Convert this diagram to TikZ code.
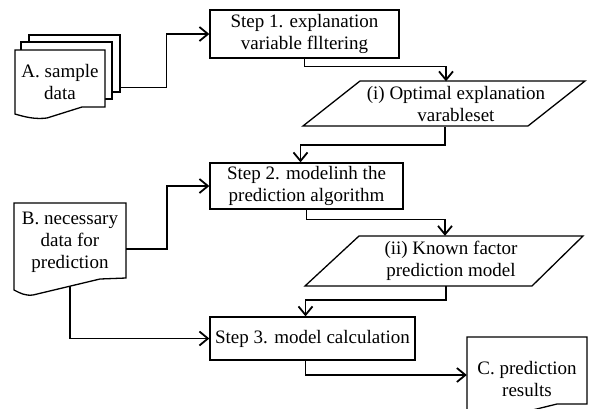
\documentclass[tikz,border=0pt]{standalone}
\usepackage{fontspec}
\setmainfont{Liberation Serif}
\usetikzlibrary{arrows.meta,calc}
\begin{document}
\begin{tikzpicture}[x=1pt,y=-1pt,
  lbl/.style={font=\fontsize{19}{22}\selectfont},
  box/.style={lbl,draw,line width=1.3pt,align=center,inner sep=0pt},
  txt/.style={lbl,align=center,inner sep=0pt},
  shp/.style={draw,line width=1.3pt,fill=white,line join=miter},
  conn/.style={line width=1.6pt,-{Straight Barb[length=8.5pt,width=14pt,line width=1.8pt]}}]
\useasboundingbox (0,0) rectangle (589,408);
\clip (0,0) rectangle (589,408);
% A: stacked documents
\node[shp,inner sep=0pt,minimum width=91pt,minimum height=57pt] (Ab) at (74.5,63.5) {};
\node[shp,inner sep=0pt,minimum width=91pt,minimum height=57pt] (Am) at (66.5,70.5) {};
\draw[shp] (15,50) -- (105,50) -- (105,107) -- (82,107) -- (47,118)
  .. controls (35,119.5) and (25,117) .. (15,114) -- cycle;
\node[txt,minimum width=90pt] (A) at (60,82) {A. sample\\data};
% B document
\draw[shp] (14,203) -- (126,203) -- (126,278) -- (100,279) -- (33,295)
  .. controls (25,296) and (20,293) .. (14,290) -- cycle;
\node[txt,minimum width=112pt] (B) at (70,242) {B. necessary\\data for\\prediction};
% C document
\draw[shp] (467,337) -- (587,337) -- (587,404) -- (557,404) -- (500,418)
  .. controls (490,420) and (478,417) .. (467,414) -- cycle;
\node[txt,minimum width=120pt] (C) at (527,379) {C. prediction\\results};
% steps
\node[box,minimum width=189pt,minimum height=48pt] (s1) at (304.5,34) {Step 1. explanation\\variable flltering};
\node[box,minimum width=193pt,minimum height=46pt] (s2) at (306.5,186) {Step 2. modelinh the\\prediction algorithm};
\node[box,minimum width=205pt,minimum height=43pt] (s3) at (312.5,338.5) {Step 3. model calculation};
% parallelograms
\draw[shp] (360,81) -- (585,81) -- (528,126) -- (303,126) -- cycle;
\node[txt,minimum height=45pt] (p1) at (456,104) {(i) Optimal explanation\\varableset};
\draw[shp] (359,236) -- (583,236) -- (532,286) -- (305,286) -- cycle;
\node[txt,minimum height=50pt] (p2) at (451,261) {(ii) Known factor\\prediction model};
% connectors
\draw[conn] ($(Ab.south east)+(0,-5)$) -- ++(46,0) |- (s1.west);
\draw[conn] (s1.south) -- ++(0,8) -| ([xshift=-10pt]p1.north);
\draw[conn] ([xshift=-11pt]p1.south) -- ++(0,18) -| ([xshift=-6pt]s2.north);
\draw[conn] (s2.south) -- ++(0,10) -| ([xshift=-6pt]p2.north);
\draw[conn] ([xshift=-5pt]p2.south) -- ++(0,14) -| ([xshift=-7pt]s3.north);
\draw[conn] ($(B.east)+(0,7)$) -- ++(41,0) |- (s2.west);
\draw[conn] ($(B.center)+(0,44)$) |- (s3.west);
\draw[conn] ([xshift=-7pt]s3.south) |- ($(C.west)+(0,-4)$);
\end{tikzpicture}
\end{document}
